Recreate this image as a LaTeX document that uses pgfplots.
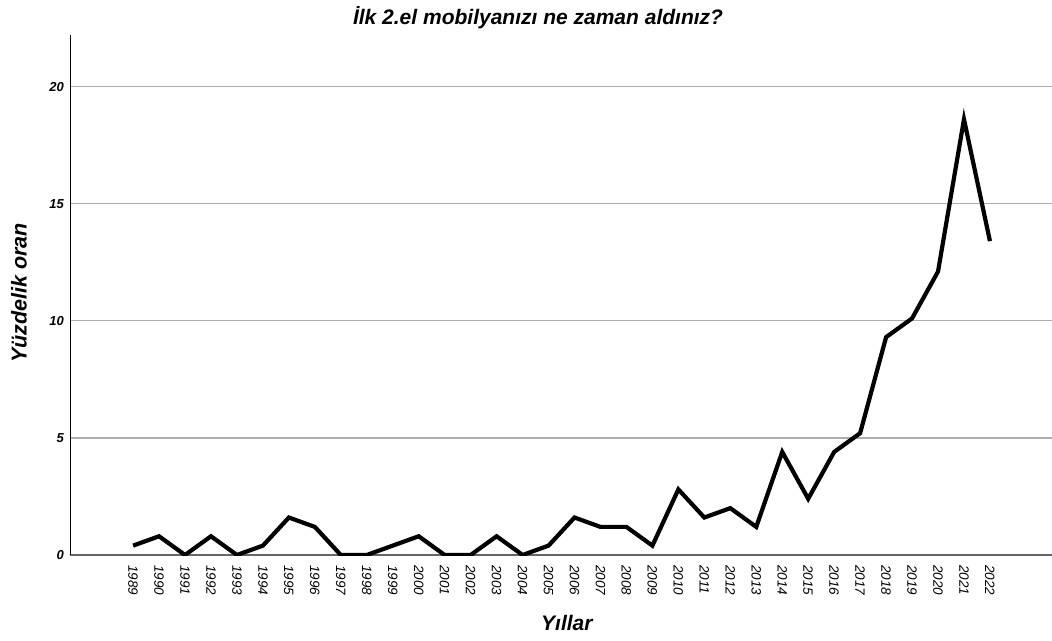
\documentclass[border=0pt]{standalone}
\usepackage{fontspec}
\setmainfont{Liberation Sans}
\usepackage{pgfplots}
\pgfplotsset{compat=1.18}
\begin{document}
\begin{tikzpicture}
\useasboundingbox (-70pt,-85pt) rectangle (982pt,555pt);
\begin{axis}[
  scale only axis, width=982pt, height=520pt,
  xmin=1986.57, xmax=2024.39, ymin=0, ymax=22.2,
  axis x line=bottom, axis y line=left,
  axis line style={-},
  x axis line style={draw=black!60, line width=1.4pt},
  y axis line style={draw=black, line width=0.8pt},
  xtick={1989,...,2022}, ytick={0,5,10,15,20},
  major tick length=0pt,
  ymajorgrids, grid style={draw=black!32, line width=1.3pt},
  /pgf/number format/assume math mode=true,
  /pgf/number format/1000 sep={},
  xticklabel style={rotate=-90, anchor=west, font=\itshape\fontsize{13.5}{15}\selectfont, inner sep=0pt},
  xticklabel shift=10pt,
  yticklabel style={font=\bfseries\itshape\fontsize{13}{15}\selectfont, inner sep=0pt},
  yticklabel shift=6pt,
  title={İlk 2.el mobilyanızı ne zaman aldınız?},
  title style={at={(axis description cs:0.4766,1.0077)}, anchor=base, yshift=0pt, inner sep=0pt, font=\bfseries\itshape\fontsize{21}{25}\selectfont},
  xlabel={Yıllar},
  xlabel style={at={(axis description cs:0.506,-0.131)}, anchor=center, font=\bfseries\itshape\fontsize{21}{25}\selectfont},
  ylabel={Yüzdelik oran},
  ylabel style={at={(axis description cs:-0.0519,0.504)}, anchor=center, rotate=0, font=\bfseries\itshape\fontsize{21.5}{25}\selectfont},
]
\addplot[black, line width=4.2pt, line join=miter, mark=none] coordinates {
(1989,0.4) (1990,0.8) (1991,0) (1992,0.8) (1993,0) (1994,0.4) (1995,1.6) (1996,1.2)
(1997,0) (1998,0) (1999,0.4) (2000,0.8) (2001,0) (2002,0) (2003,0.8) (2004,0)
(2005,0.4) (2006,1.6) (2007,1.2) (2008,1.2) (2009,0.4) (2010,2.8) (2011,1.6) (2012,2.0)
(2013,1.2) (2014,4.4) (2015,2.4) (2016,4.4) (2017,5.2) (2018,9.3) (2019,10.1) (2020,12.1)
(2021,18.6) (2022,13.4)
};
\end{axis}
\end{tikzpicture}
\end{document}
